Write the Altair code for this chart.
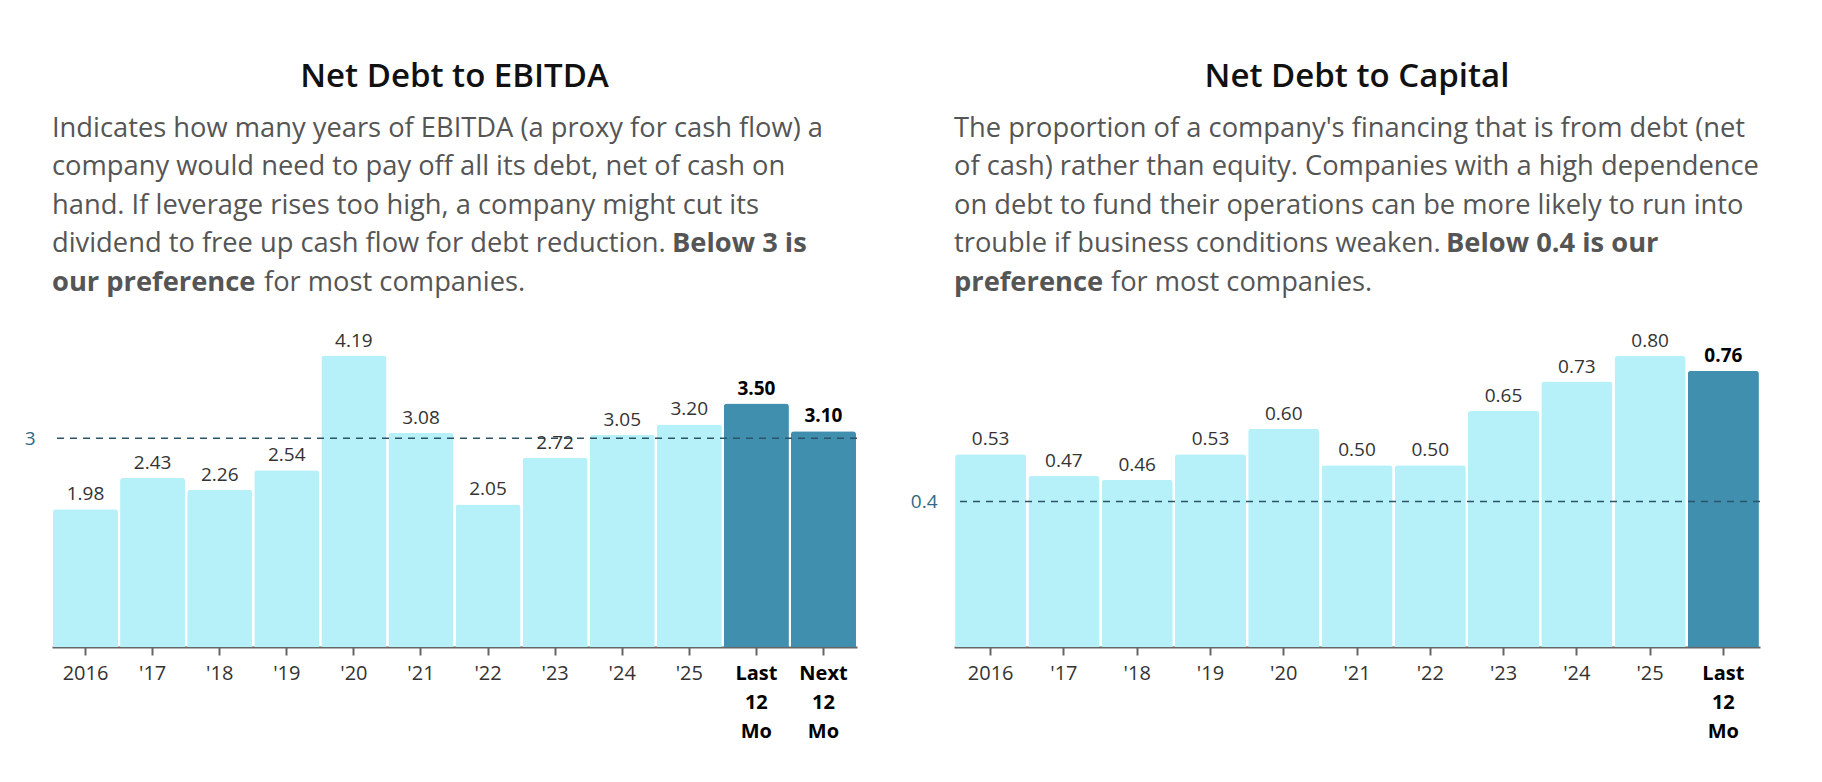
import altair as alt
import pandas as pd

# ---- data ----
ebitda_cats = ["2016", "'17", "'18", "'19", "'20", "'21", "'22", "'23", "'24", "'25", "Last 12 Mo", "Next 12 Mo"]
ebitda_vals = [1.98, 2.43, 2.26, 2.54, 4.19, 3.08, 2.05, 2.72, 3.05, 3.20, 3.50, 3.10]
ebitda_target = 3

capital_cats = ["2016", "'17", "'18", "'19", "'20", "'21", "'22", "'23", "'24", "'25", "Last 12 Mo"]
capital_vals = [0.53, 0.47, 0.46, 0.53, 0.60, 0.50, 0.50, 0.65, 0.73, 0.80, 0.76]
capital_target = 0.4

ebitda_title = "Net Debt to EBITDA"
ebitda_lines = [
    [("Indicates how many years of EBITDA (a proxy for cash flow) a", "normal", 0)],
    [("company would need to pay off all its debt, net of cash on", "normal", 0)],
    [("hand. If leverage rises too high, a company might cut its", "normal", 0)],
    [("dividend to free up cash flow for debt reduction.", "normal", 0), ("Below 3 is", "bold", 620)],
    [("our preference", "bold", 0), ("for most companies.", "normal", 212)],
]
capital_title = "Net Debt to Capital"
capital_lines = [
    [("The proportion of a company's financing that is from debt (net", "normal", 0)],
    [("of cash) rather than equity. Companies with a high dependence", "normal", 0)],
    [("on debt to fund their operations can be more likely to run into", "normal", 0)],
    [("trouble if business conditions weaken.", "normal", 0), ("Below 0.4 is our", "bold", 492)],
    [("preference", "bold", 0), ("for most companies.", "normal", 157)],
]

LIGHT = "#b6f0f8"
DARK = "#408faf"
FONT = "Open Sans"
PLOT_H = 320


def panel(cats, vals, target, ymax, width, title, lines):
    df = pd.DataFrame({"cat": cats, "val": vals})
    hl = "indexof(datum.cat, 'Mo') >= 0"
    xenc = alt.X(
        "cat:N", sort=cats, title=None,
        scale=alt.Scale(paddingInner=0.03, paddingOuter=0.015),
        axis=alt.Axis(
            labelAngle=0, labelExpr="split(datum.label, ' ')",
            labelFont=FONT, labelFontSize=20, labelLineHeight=29,
            labelColor={"condition": {"test": "indexof(datum.value, 'Mo') >= 0", "value": "#000000"}, "value": "#333333"},
            labelFontWeight={"condition": {"test": "indexof(datum.value, 'Mo') >= 0", "value": "bold"}, "value": "normal"},
            domainColor="#666666", domainWidth=2, tickColor="#666666", tickWidth=2, tickSize=8,
            labelPadding=8,
        ),
    )
    yscale = alt.Scale(domain=[0, ymax], nice=False, zero=True)
    yenc = alt.Y(
        "val:Q", title=None, scale=yscale,
        axis=alt.Axis(values=[target], format="~g", domain=False, ticks=False, grid=False,
                      labelColor="#2e6a86", labelFont=FONT, labelFontSize=19,
                      labelPadding=17, minExtent=39),
    )
    base = alt.Chart(df)
    bars = base.mark_bar(cornerRadiusTopLeft=3, cornerRadiusTopRight=3).encode(
        x=xenc, y=yenc,
        color=alt.condition(hl, alt.value(DARK), alt.value(LIGHT)),
    )
    rule = alt.Chart(pd.DataFrame({"t": [target]})).mark_rule(
        strokeDash=[7, 6], color="#2b5468", strokeWidth=1.5
    ).encode(y=alt.Y("t:Q", scale=yscale, title=None))
    lab_norm = base.transform_filter("indexof(datum.cat, 'Mo') < 0").mark_text(
        baseline="bottom", dy=-5, fontSize=19, font=FONT, color="#333333"
    ).encode(x=alt.X("cat:N", sort=cats), y="val:Q", text=alt.Text("val:Q", format=".2f"))
    lab_bold = base.transform_filter(hl).mark_text(
        baseline="bottom", dy=-5, fontSize=19, font=FONT, color="#000000", fontWeight="bold"
    ).encode(x=alt.X("cat:N", sort=cats), y="val:Q", text=alt.Text("val:Q", format=".2f"))

    layers = [bars, rule, lab_norm, lab_bold]
    # title
    layers.append(
        alt.Chart(pd.DataFrame({"t": [title]})).mark_text(
            align="center", baseline="middle", fontSize=33, font=FONT, fontWeight=600, color="#111111"
        ).encode(text="t:N", x=alt.value(width / 2), y=alt.value(-250))
    )
    line_y = [-198, -160, -121, -83, -44]
    for ly, segs in zip(line_y, lines):
        for txt, wt, dx in segs:
            layers.append(
                alt.Chart(pd.DataFrame({"t": [txt]})).mark_text(
                    align="left", baseline="middle", fontSize=27.3, font=FONT,
                    fontWeight=wt, color="#555555"
                ).encode(text="t:N", x=alt.value(dx), y=alt.value(ly))
            )
    return alt.layer(*layers).properties(width=width, height=PLOT_H)


left = panel(ebitda_cats, ebitda_vals, ebitda_target, 4.6, 805, ebitda_title, ebitda_lines)
right = panel(capital_cats, capital_vals, capital_target, 0.88, 806, capital_title, capital_lines)

chart = (
    alt.hconcat(left, right, spacing=52)
    .resolve_scale(x="independent", y="independent")
    .properties(padding={"left": 5, "top": 53, "right": 5, "bottom": 5})
    .configure(font=FONT, background="white")
    .configure_view(stroke="transparent", strokeWidth=0)
)

chart.save("out.html", embed_options={"renderer": "svg", "actions": False})
